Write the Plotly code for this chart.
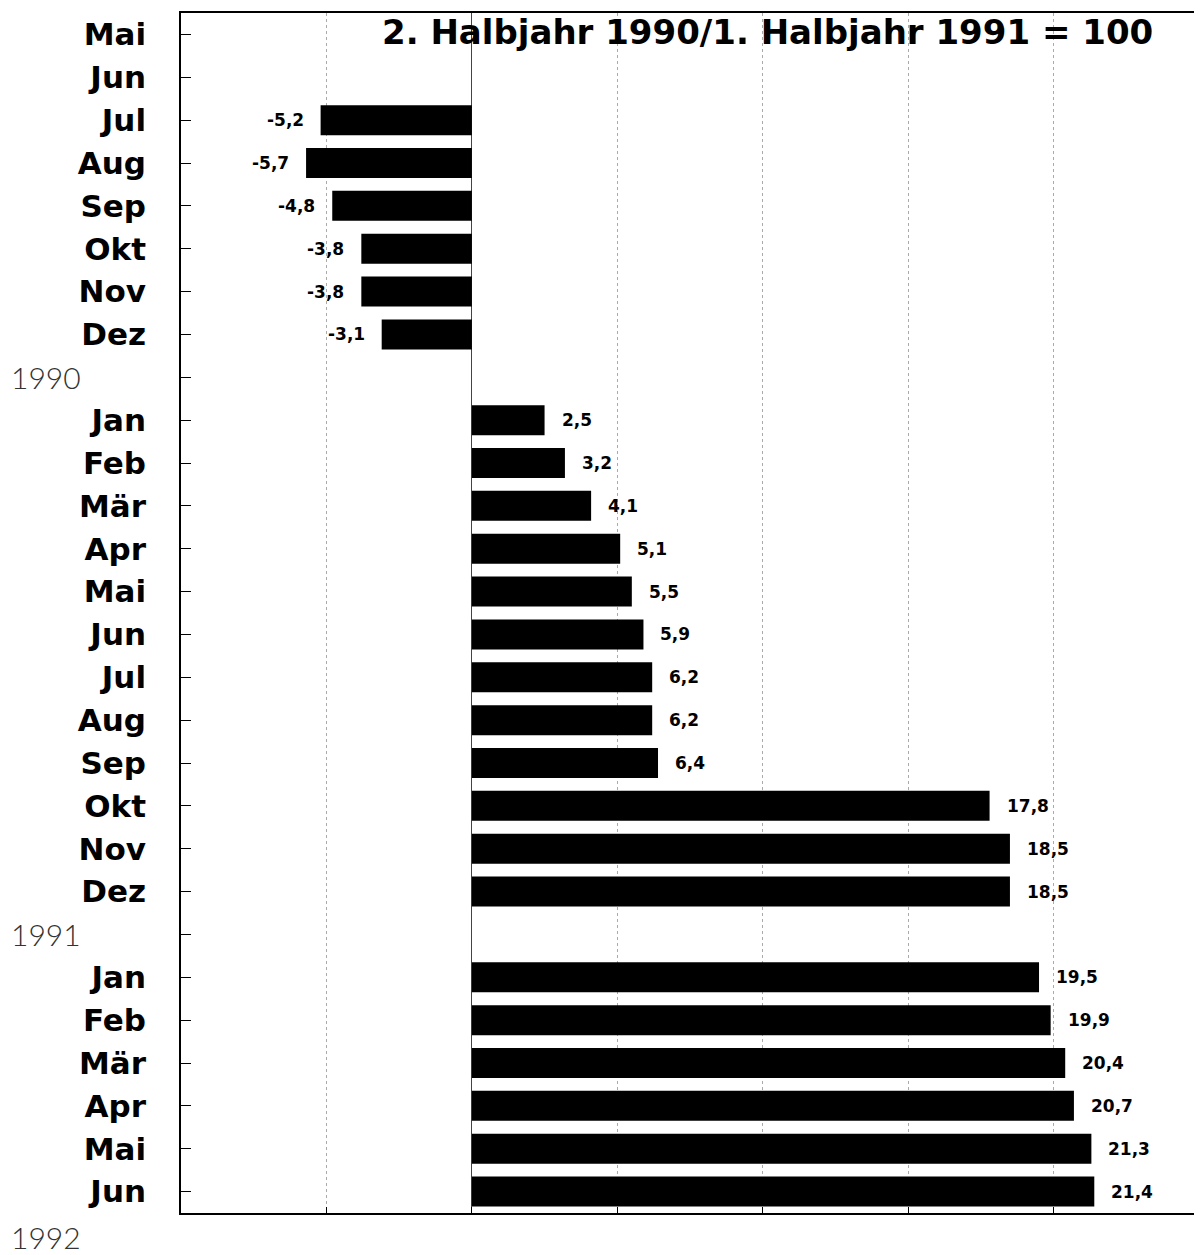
import plotly.graph_objects as go

# ---- data ----
month_labels = ["Mai", "Jun", "Jul", "Aug", "Sep", "Okt", "Nov", "Dez", "",
                "Jan", "Feb", "Mär", "Apr", "Mai", "Jun", "Jul", "Aug", "Sep", "Okt", "Nov", "Dez", "",
                "Jan", "Feb", "Mär", "Apr", "Mai", "Jun"]
values = [None, None, -5.2, -5.7, -4.8, -3.8, -3.8, -3.1, None,
          2.5, 3.2, 4.1, 5.1, 5.5, 5.9, 6.2, 6.2, 6.4, 17.8, 18.5, 18.5, None,
          19.5, 19.9, 20.4, 20.7, 21.3, 21.4]
year_labels = ["1990", "1991", "1992"]
year_rows = [8, 21, 28]
title_text = "2. Halbjahr 1990/1. Halbjahr 1991 = 100"
x_gridvals = [-5, 0, 5, 10, 15, 20]

rows = list(range(len(month_labels)))

BOLD = "DejaVu Sans, Liberation Sans, Arial, sans-serif"

W, H = 1194, 1247
ML, MT, MR, MB = 173, 5, 3, 42
PW = W - ML - MR
PH = H - MT - MB
N = len(rows)

fig = go.Figure()
fig.add_trace(go.Bar(
    x=values, y=rows, orientation="h",
    width=0.7,
    marker=dict(color="#000000", line=dict(width=0)),
    hoverinfo="skip",
    showlegend=False,
))

annotations = []
for r, v in zip(rows, values):
    if v is None:
        continue
    txt = f"{v:.1f}".replace(".", ",")
    annotations.append(dict(
        x=v, y=r, xref="x", yref="y",
        text=txt, showarrow=False,
        xanchor="left" if v >= 0 else "right",
        xshift=15 if v >= 0 else -15,
        yanchor="middle",
        font=dict(family=BOLD, size=17, color="#000000", weight="bold"),
    ))

for lab, r in zip(year_labels, year_rows):
    # position in paper coordinates (rows span -0.5..N-0.5 top to bottom)
    yp = 1 - (r + 0.5) / N
    annotations.append(dict(
        x=-ML / PW, y=yp, xref="paper", yref="paper",
        text=lab, showarrow=False, xanchor="left", yanchor="middle",
        xshift=1,
        yshift=-3 if r == 28 else 0,
        font=dict(family="Lato, Liberation Sans, sans-serif", size=30,
                  color="#333333", weight=300),
    ))

annotations.append(dict(
    x=(767 - 8 - ML) / PW, y=1 - (32 - 8 - MT) / PH, xref="paper", yref="paper",
    text=title_text, showarrow=False, xanchor="center", yanchor="middle",
    font=dict(family=BOLD, size=34, color="#000000", weight="bold"),
))

fig.update_layout(
    width=W, height=H,
    margin=dict(l=ML, r=MR, t=MT, b=MB),
    paper_bgcolor="white", plot_bgcolor="white",
    annotations=annotations,
    shapes=[dict(type="line", xref="paper", yref="paper", x0=1, x1=1, y0=0, y1=1,
                 line=dict(color="#999999", width=1))],
    xaxis=dict(
        range=[-10, 25],
        tickvals=x_gridvals,
        showticklabels=False,
        ticks="inside", ticklen=6, tickcolor="#000000", tickwidth=1,
        showgrid=True, gridcolor="#aaaaaa", griddash="dot", gridwidth=1,
        zeroline=True, zerolinecolor="#444444", zerolinewidth=1,
        showline=True, linecolor="#000000", linewidth=1.5, mirror=True,
        fixedrange=True,
    ),
    yaxis=dict(
        range=[N - 0.5, -0.5],
        tickvals=rows,
        ticktext=month_labels,
        ticks="inside", ticklen=10, tickcolor="#000000", tickwidth=1,
        ticklabelstandoff=27,
        tickfont=dict(family=BOLD, size=31, color="#000000", weight="bold"),
        showgrid=False, zeroline=False,
        showline=True, linecolor="#000000", linewidth=1.5, mirror=False,
        fixedrange=True,
    ),
)

fig.write_html("out.html")
